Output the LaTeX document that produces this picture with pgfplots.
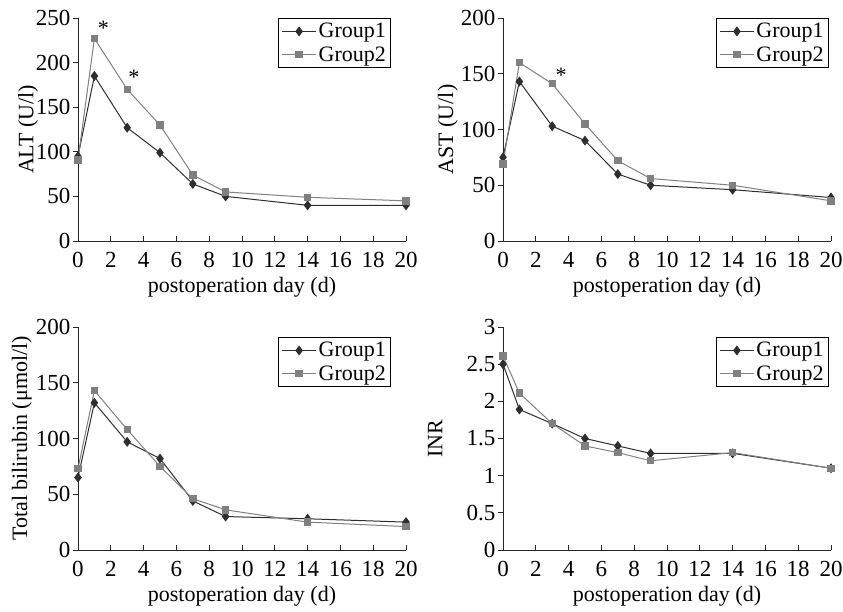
\documentclass[border=0pt]{standalone}
\usepackage{fontspec}
\setmainfont{Liberation Serif}
\usepackage{pgfplots}
\pgfplotsset{compat=1.18}

\definecolor{gone}{HTML}{2E2E2E}
\definecolor{gtwo}{HTML}{808080}

\pgfplotsset{
  panel/.style={
    scale only axis, width=328pt, height=223pt,
    axis lines=left, axis line style={-, line width=0.8pt, black!85},
    xmin=0, xmax=20, xtick={0,2,...,20}, ymin=0,
    xtick align=inside, ytick align=outside,
    major tick length=5pt,
    tick style={black!85, line width=0.8pt},
    /pgf/number format/assume math mode=true,
    tick label style={font=\fontsize{23}{25}\selectfont},
    xticklabel style={yshift=-8pt},
    yticklabel style={xshift=1pt},
    label style={font=\fontsize{22}{24}\selectfont},
    xlabel style={yshift=-2pt},
    xlabel={postoperation day (d)},
    legend style={font=\fontsize{22}{24}\selectfont, draw=black, line width=0.8pt,
      inner xsep=3pt, inner ysep=3pt, row sep=3pt},
    legend image code/.code={\draw[mark repeat=2, mark phase=2]
      plot coordinates {(0pt,0pt) (17pt,0pt) (34pt,0pt)};},
    legend cell align=left,
    clip=false,
  },
  ylab/.style={ylabel style={at={(axis description cs:#1,0.5)}, anchor=center}},
  g1/.style={color=gone, line width=1pt, mark=diamond*, mark size=4.2pt},
  g2/.style={color=gtwo, line width=1pt, mark=square*, mark size=3.2pt},
}

\begin{document}
\begin{tikzpicture}[x=1pt,y=1pt]
\useasboundingbox (0,0) rectangle (843,612);

% ALT
\begin{axis}[panel, at={(78pt,371pt)}, anchor=south west,
    ymax=250, ytick={0,50,...,250}, ylabel={ALT (U/l)}, ylab=-0.152,
    legend style={at={(0.955,1)}, anchor=north east}]
  \addplot[g1] coordinates {(0,95) (1,185) (3,127) (5,99) (7,64) (9,50) (14,40) (20,40)};
  \addplot[g2] coordinates {(0,91) (1,227) (3,170) (5,130) (7,74) (9,55) (14,49) (20,45)};
  \legend{Group1, Group2}
  \node[font=\fontsize{22}{24}\selectfont] at (axis cs:1.55,238) {*};
  \node[font=\fontsize{22}{24}\selectfont] at (axis cs:3.4,183) {*};
\end{axis}

% AST
\begin{axis}[panel, at={(503pt,371pt)}, anchor=south west,
    ymax=200, ytick={0,50,...,200}, ylabel={AST (U/l)}, ylab=-0.168,
    legend style={at={(0.994,1)}, anchor=north east}]
  \addplot[g1] coordinates {(0,75) (1,143) (3,103) (5,90) (7,60) (9,50) (14,46) (20,39)};
  \addplot[g2] coordinates {(0,69) (1,160) (3,141) (5,105) (7,72) (9,56) (14,50) (20,36)};
  \legend{Group1, Group2}
  \node[font=\fontsize{22}{24}\selectfont] at (axis cs:3.55,149) {*};
\end{axis}

% Total bilirubin
\begin{axis}[panel, at={(78pt,62pt)}, anchor=south west,
    ymax=200, ytick={0,50,...,200}, ylabel={Total bilirubin (μmol/l)}, ylab=-0.171,
    legend style={at={(0.955,0.955)}, anchor=north east}]
  \addplot[g1] coordinates {(0,65) (1,132) (3,97) (5,82) (7,44) (9,30) (14,28) (20,25)};
  \addplot[g2] coordinates {(0,73) (1,143) (3,108) (5,75) (7,46) (9,36) (14,25) (20,21)};
  \legend{Group1, Group2}
\end{axis}

% INR
\begin{axis}[panel, at={(503pt,62pt)}, anchor=south west,
    ymax=3, ytick={0,0.5,...,3}, ylabel={INR}, ylab=-0.207,
    legend style={at={(0.994,0.955)}, anchor=north east}]
  \addplot[g1] coordinates {(0,2.5) (1,1.89) (3,1.7) (5,1.5) (7,1.4) (9,1.3) (14,1.3) (20,1.1)};
  \addplot[g2] coordinates {(0,2.61) (1,2.11) (3,1.7) (5,1.4) (7,1.31) (9,1.2) (14,1.31) (20,1.1)};
  \legend{Group1, Group2}
\end{axis}
\end{tikzpicture}
\end{document}
